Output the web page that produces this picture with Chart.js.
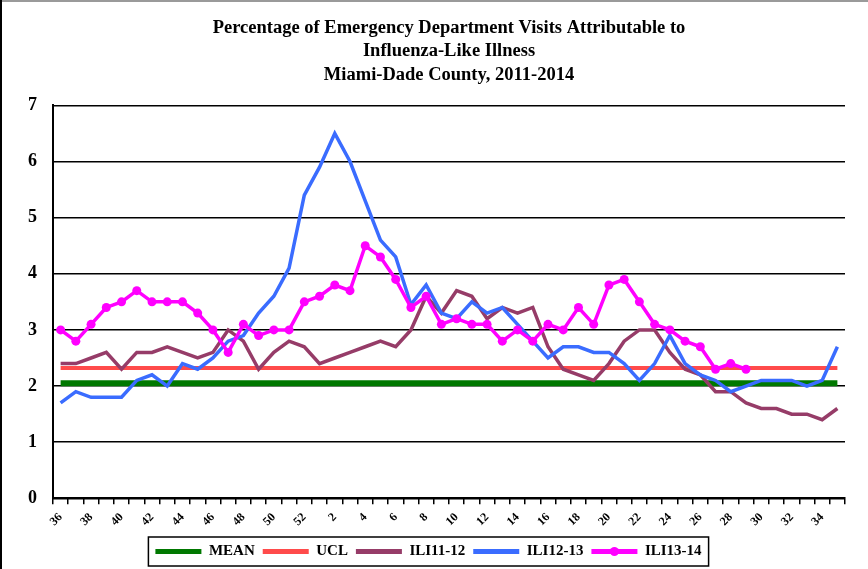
<!DOCTYPE HTML><html><head>
<meta name="viewport" content="width=device-width, initial-scale=1">
<style>
    html, body {
      margin: 0px;
      padding: 0px;
      background: #ffffff;
    }
    #wrap {
      width: 868px;
      height: 569px;
    }
</style>
</head>
<body>
<div id="wrap"><canvas id="myChart" width="868" height="569"></canvas></div>
<script src="https://cdn.jsdelivr.net/npm/chart.js@4.4.1/dist/chart.umd.min.js"></script>
<script>
// surveillance weeks, season starts at week 36
var weeks = [36,37,38,39,40,41,42,43,44,45,46,47,48,49,50,51,52,
             1,2,3,4,5,6,7,8,9,10,11,12,13,14,15,16,17,18,19,20,21,22,23,24,25,26,27,28,29,30,31,32,33,34,35];

var meanValue = 2.05;
var uclValue = 2.32;

var ili1112 = [2.4,2.4,2.5,2.6,2.3,2.6,2.6,2.7,2.6,2.5,2.6,3.0,2.8,2.3,2.6,2.8,2.7,
               2.4,2.5,2.6,2.7,2.8,2.7,3.0,3.6,3.3,3.7,3.6,3.2,3.4,3.3,3.4,2.7,2.3,2.2,2.1,
               2.4,2.8,3.0,3.0,2.6,2.3,2.2,1.9,1.9,1.7,1.6,1.6,1.5,1.5,1.4,1.6];

var ili1213 = [1.7,1.9,1.8,1.8,1.8,2.1,2.2,2.0,2.4,2.3,2.5,2.8,2.9,3.3,3.6,4.1,5.4,
               5.9,6.5,6.0,5.3,4.6,4.3,3.45,3.8,3.3,3.2,3.5,3.3,3.4,3.1,2.8,2.5,2.7,2.7,2.6,
               2.6,2.4,2.1,2.4,2.9,2.4,2.2,2.1,1.9,2.0,2.1,2.1,2.1,2.0,2.1,2.7];

var ili1314 = [3.0,2.8,3.1,3.4,3.5,3.7,3.5,3.5,3.5,3.3,3.0,2.6,3.1,2.9,3.0,3.0,3.5,
               3.6,3.8,3.7,4.5,4.3,3.9,3.4,3.6,3.1,3.2,3.1,3.1,2.8,3.0,2.8,3.1,3.0,3.4,3.1,
               3.8,3.9,3.5,3.1,3.0,2.8,2.7,2.3,2.4,2.3,null,null,null,null,null,null];

var yTicks = [0,1,2,3,4,5,6,7];

var serif = "'Liberation Serif', 'Times New Roman', serif";

// frame + box around legend + dot on the ILI13-14 legend sample
var extras = {
  id: 'extras',
  beforeDraw: function(chart) {
    var c = chart.ctx;
    c.save();
    c.fillStyle = '#ffffff';
    c.fillRect(0, 0, chart.width, chart.height);
    c.restore();
  },
  afterDraw: function(chart) {
    var c = chart.ctx;
    var lg = chart.legend;
    c.save();
    c.strokeStyle = '#9a9a9a';
    c.lineWidth = 2;
    c.beginPath();
    c.moveTo(0, 1); c.lineTo(chart.width, 1);
    c.stroke();
    c.strokeStyle = '#000000';
    c.beginPath();
    c.moveTo(1, 0); c.lineTo(1, chart.height);
    c.stroke();
    if (lg && lg.legendHitBoxes.length) {
      var hb = lg.legendHitBoxes;
      var l = hb[0].left, r = 0, t = hb[0].top, h = hb[0].height;
      hb.forEach(function(b) { r = Math.max(r, b.left + b.width); });
      c.strokeStyle = '#000000';
      c.lineWidth = 1.5;
      c.strokeRect(l - 7, t - 7, (r - l) + 14, h + 14);
      var last = hb[hb.length - 1];
      c.fillStyle = '#ff00ff';
      c.beginPath();
      c.arc(last.left + 23, last.top + h / 2, 4.5, 0, Math.PI * 2);
      c.fill();
    }
    c.restore();
  }
};

var ctx = document.getElementById('myChart');
var myChart = new Chart(ctx, {
    type: 'line',
    data: {
        labels: weeks,
        datasets: [{
            label: 'MEAN',
            data: weeks.map(function() { return meanValue; }),
            borderColor: '#007800',
            backgroundColor: '#007800',
            borderWidth: 6,
            pointRadius: 0,
            order: 5
        }, {
            label: 'UCL',
            data: weeks.map(function() { return uclValue; }),
            borderColor: '#ff4b4b',
            backgroundColor: '#ff4b4b',
            borderWidth: 4,
            pointRadius: 0,
            order: 4
        }, {
            label: 'ILI11-12',
            data: ili1112,
            borderColor: '#963c68',
            backgroundColor: '#963c68',
            borderWidth: 3.5,
            pointRadius: 0,
            order: 3
        }, {
            label: 'ILI12-13',
            data: ili1213,
            borderColor: '#3a6cff',
            backgroundColor: '#3a6cff',
            borderWidth: 3.5,
            pointRadius: 0,
            order: 2
        }, {
            label: 'ILI13-14',
            data: ili1314,
            borderColor: '#ff00ff',
            backgroundColor: '#ff00ff',
            borderWidth: 3.5,
            pointRadius: 4.5,
            pointBorderWidth: 0,
            order: 1
        }]
    },
    options: {
        responsive: false,
        animation: false,
        layout: {
            padding: { left: 12, right: 23, top: 0, bottom: 0 }
        },
        elements: { line: { tension: 0 } },
        plugins: {
            title: {
                display: true,
                fullSize: false,
                text: ['Percentage of Emergency Department Visits Attributable to',
                       'Influenza-Like Illness',
                       'Miami-Dade County, 2011-2014'],
                color: '#000000',
                font: { family: serif, size: 18.5, weight: 'bold', lineHeight: 1.25 },
                padding: { top: 17, bottom: 19 }
            },
            legend: {
                position: 'bottom',
                sort: function(a, b) { return a.datasetIndex - b.datasetIndex; },
                labels: {
                    boxWidth: 46,
                    boxHeight: 5,
                    padding: 8,
                    color: '#000000',
                    font: { family: serif, size: 15, weight: 'bold' },
                    generateLabels: function(chart) {
                        return chart.data.datasets.map(function(ds, i) {
                            return { text: ds.label, fillStyle: ds.borderColor, strokeStyle: ds.borderColor,
                                     lineWidth: 0, datasetIndex: i, hidden: false };
                        });
                    }
                }
            },
            tooltip: { enabled: false }
        },
        scales: {
            x: {
                offset: true,
                grid: { offset: true, drawOnChartArea: false, drawTicks: true, tickLength: 6, color: '#000000', lineWidth: 1.5 },
                border: { color: '#000000', width: 2 },
                ticks: {
                    autoSkip: false,
                    minRotation: 45,
                    maxRotation: 45,
                    padding: 6,
                    color: '#000000',
                    font: { family: serif, size: 12, weight: 'bold' },
                    callback: function(v, i) { return i % 2 === 0 ? weeks[i] : ''; }
                },
                afterFit: function(scale) { scale.height += 1; }
            },
            y: {
                min: 0,
                max: 7,
                afterBuildTicks: function(scale) {
                    scale.ticks = yTicks.map(function(v) { return { value: v }; });
                },
                grid: { drawTicks: false, color: '#000000', lineWidth: 1.5 },
                border: { color: '#000000', width: 2 },
                ticks: {
                    padding: 16,
                    color: '#000000',
                    font: { family: serif, size: 18, weight: 'bold' }
                }
            }
        }
    },
    plugins: [extras]
});
</script>
</body></html>
